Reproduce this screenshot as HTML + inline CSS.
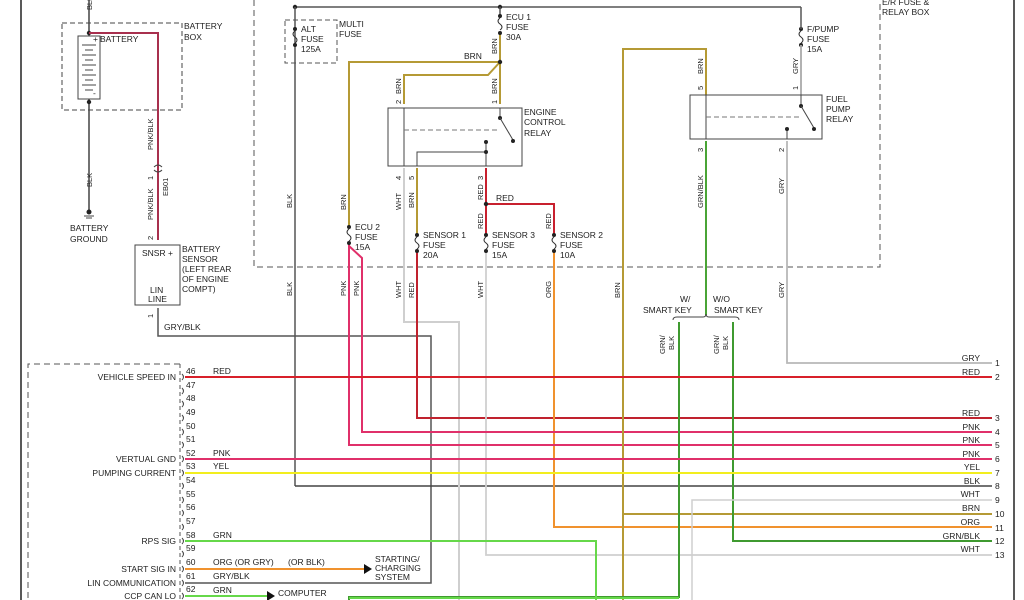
<!DOCTYPE html>
<html><head><meta charset="utf-8"><style>
html,body{margin:0;padding:0;background:#fff;}
svg{display:block;}
text{font-family:"Liberation Sans",sans-serif;font-size:8.5px;fill:#222;}
.s{font-size:7.5px;}
</style></head><body>
<svg width="1024" height="600" viewBox="0 0 1024 600" xmlns="http://www.w3.org/2000/svg">
<!-- frame lines -->
<line x1="21" y1="0" x2="21" y2="600" stroke="#222" stroke-width="1.5"/>
<line x1="1014" y1="0" x2="1014" y2="600" stroke="#222" stroke-width="1.5"/>

<!-- Battery section -->
<line x1="89" y1="0" x2="89" y2="210" stroke="#444" stroke-width="1.5"/>
<rect x="62" y="23" width="120" height="87" fill="none" stroke="#444" stroke-dasharray="5,3"/>
<rect x="78" y="36" width="22" height="63" fill="#fff" stroke="#444"/>
<g stroke="#444">
<line x1="82" y1="45" x2="96" y2="45"/><line x1="85" y1="50" x2="93" y2="50"/>
<line x1="82" y1="55" x2="96" y2="55"/><line x1="85" y1="60" x2="93" y2="60"/>
<line x1="82" y1="65" x2="96" y2="65"/><line x1="85" y1="70" x2="93" y2="70"/>
<line x1="82" y1="75" x2="96" y2="75"/><line x1="85" y1="80" x2="93" y2="80"/>
<line x1="82" y1="85" x2="96" y2="85"/><line x1="85" y1="90" x2="93" y2="90"/>
</g>
<circle cx="89" cy="33" r="2.2" fill="#222"/><circle cx="89" cy="102" r="2.2" fill="#222"/>
<circle cx="89" cy="212" r="2.5" fill="#222"/>
<line x1="84" y1="216" x2="94" y2="216" stroke="#444"/><line x1="86" y1="218" x2="92" y2="218" stroke="#444"/>
<text x="93" y="42">+</text><text x="93" y="96">-</text>
<text x="100" y="42">BATTERY</text>
<text x="184" y="29">BATTERY</text><text x="184" y="40">BOX</text>
<text x="70" y="231">BATTERY</text><text x="70" y="242">GROUND</text>
<polyline points="89,33 158,33 158,240" fill="none" stroke="#a8304e" stroke-width="2"/>
<path d="M154,167 q4,-4 8,0 M154,170 q4,4 8,0" fill="none" stroke="#444"/>
<rect x="135" y="245" width="45" height="60" fill="#fff" stroke="#444"/>
<text x="142" y="256">SNSR +</text><text x="150" y="293">LIN</text><text x="148" y="302">LINE</text>
<text x="182" y="252">BATTERY</text><text x="182" y="262">SENSOR</text><text x="182" y="272">(LEFT REAR</text><text x="182" y="282">OF ENGINE</text><text x="182" y="292">COMPT)</text>
<polyline points="158,308 158,336 431,336 431,583 185,583" fill="none" stroke="#555" stroke-width="1.5"/>
<text x="164" y="330">GRY/BLK</text>
<text class="s" transform="translate(153,150) rotate(-90)">PNK/BLK</text>
<text class="s" transform="translate(153,220) rotate(-90)">PNK/BLK</text>
<text class="s" transform="translate(168,196) rotate(-90)">EB01</text>
<text class="s" transform="translate(153,180) rotate(-90)">1</text>
<text class="s" transform="translate(153,240) rotate(-90)">2</text>
<text class="s" transform="translate(153,318) rotate(-90)">1</text>
<text class="s" transform="translate(92,187) rotate(-90)">BLK</text>
<text class="s" transform="translate(92,10) rotate(-90)">BLK</text>

<!-- E/R fuse box -->
<polyline points="254,0 254,267 880,267 880,0" fill="none" stroke="#555" stroke-dasharray="6,4"/>
<text x="882" y="5">E/R FUSE &amp;</text><text x="882" y="15">RELAY BOX</text>
<line x1="295" y1="7" x2="801" y2="7" stroke="#555" stroke-width="1.5"/>
<circle cx="295" cy="7" r="2.2" fill="#222"/><circle cx="500" cy="7" r="2.2" fill="#222"/>
<rect x="285" y="20" width="52" height="43" fill="none" stroke="#555" stroke-dasharray="5,3"/>
<text x="339" y="27">MULTI</text><text x="339" y="37">FUSE</text>
<text x="301" y="32">ALT</text><text x="301" y="42">FUSE</text><text x="301" y="52">125A</text>
<line x1="295" y1="7" x2="295" y2="486" stroke="#555" stroke-width="1.5"/>
<line x1="295" y1="486" x2="992" y2="486" stroke="#444" stroke-width="1.5"/>
<text class="s" transform="translate(292,208) rotate(-90)">BLK</text>
<text class="s" transform="translate(292,296) rotate(-90)">BLK</text>

<!-- ECU1 fuse -->
<line x1="500" y1="7" x2="500" y2="18" stroke="#555" stroke-width="1.5"/>
<text x="506" y="20">ECU 1</text><text x="506" y="30">FUSE</text><text x="506" y="40">30A</text>
<polyline points="500,33 500,104" fill="none" stroke="#b59a35" stroke-width="2"/>
<polyline points="500,62 349,62 349,227" fill="none" stroke="#b59a35" stroke-width="2"/>
<polyline points="500,62 488,75 404,75 404,104" fill="none" stroke="#b59a35" stroke-width="2"/>
<circle cx="500" cy="62" r="2.2" fill="#222"/>
<text x="464" y="59">BRN</text>
<text class="s" transform="translate(497,54) rotate(-90)">BRN</text>
<text class="s" transform="translate(497,94) rotate(-90)">BRN</text>
<text class="s" transform="translate(401,94) rotate(-90)">BRN</text>
<text class="s" transform="translate(401,104) rotate(-90)">2</text>
<text class="s" transform="translate(497,104) rotate(-90)">1</text>

<!-- Engine control relay -->
<rect x="388" y="108" width="134" height="58" fill="none" stroke="#444"/>
<text x="524" y="115">ENGINE</text><text x="524" y="125">CONTROL</text><text x="524" y="136">RELAY</text>
<line x1="404" y1="108" x2="404" y2="166" stroke="#444"/>
<line x1="404" y1="130" x2="500" y2="130" stroke="#777" stroke-dasharray="5,3"/>
<line x1="500" y1="108" x2="500" y2="118" stroke="#444"/>
<circle cx="500" cy="118" r="2" fill="#222"/>
<line x1="500" y1="118" x2="513" y2="140" stroke="#444"/><circle cx="513" cy="141" r="2" fill="#222"/>
<polyline points="417,166 417,152 486,152" fill="none" stroke="#444"/>
<line x1="486" y1="142" x2="486" y2="166" stroke="#444"/>
<circle cx="486" cy="142" r="2" fill="#222"/><circle cx="486" cy="152" r="2" fill="#222"/>
<text class="s" transform="translate(401,180) rotate(-90)">4</text>
<text class="s" transform="translate(414,180) rotate(-90)">5</text>
<text class="s" transform="translate(483,180) rotate(-90)">3</text>
<text class="s" transform="translate(483,200) rotate(-90)">RED</text>

<!-- WHT from pin 4 -->
<polyline points="404,168 404,322 459,322 459,600" fill="none" stroke="#cfcfcf" stroke-width="2"/>
<text class="s" transform="translate(401,210) rotate(-90)">WHT</text>
<text class="s" transform="translate(401,298) rotate(-90)">WHT</text>
<!-- BRN pin 5 -> sensor1 -->
<line x1="417" y1="168" x2="417" y2="234" stroke="#b59a35" stroke-width="2"/>
<text class="s" transform="translate(414,208) rotate(-90)">BRN</text>
<text x="423" y="238">SENSOR 1</text><text x="423" y="248">FUSE</text><text x="423" y="258">20A</text>
<polyline points="417,251 417,418 992,418" fill="none" stroke="#c0222e" stroke-width="2"/>
<text class="s" transform="translate(414,298) rotate(-90)">RED</text>

<!-- RED pin 3 -->
<line x1="486" y1="168" x2="486" y2="236" stroke="#c8202e" stroke-width="2"/>
<polyline points="486,204 554,204 554,236" fill="none" stroke="#c8202e" stroke-width="2"/>
<circle cx="486" cy="204" r="2.2" fill="#222"/>
<text x="496" y="201">RED</text>
<text class="s" transform="translate(483,229) rotate(-90)">RED</text>
<text class="s" transform="translate(551,229) rotate(-90)">RED</text>
<text x="492" y="238">SENSOR 3</text><text x="492" y="248">FUSE</text><text x="492" y="258">15A</text>
<text x="560" y="238">SENSOR 2</text><text x="560" y="248">FUSE</text><text x="560" y="258">10A</text>
<polyline points="486,252 486,555 992,555" fill="none" stroke="#cfcfcf" stroke-width="1.8"/>
<text class="s" transform="translate(483,298) rotate(-90)">WHT</text>
<polyline points="554,252 554,527 992,527" fill="none" stroke="#f0922e" stroke-width="2"/>
<text class="s" transform="translate(551,298) rotate(-90)">ORG</text>

<!-- ECU2 fuse -->
<text x="355" y="230">ECU 2</text><text x="355" y="240">FUSE</text><text x="355" y="250">15A</text>
<text class="s" transform="translate(346,210) rotate(-90)">BRN</text>
<polyline points="349,244 349,445 992,445" fill="none" stroke="#e0306a" stroke-width="2"/>
<polyline points="349,246 362,258 362,432 992,432" fill="none" stroke="#e0306a" stroke-width="2"/>
<text class="s" transform="translate(346,296) rotate(-90)">PNK</text>
<text class="s" transform="translate(359,296) rotate(-90)">PNK</text>

<!-- fuse symbols -->
<g fill="#222">
<circle cx="295" cy="29" r="2"/><circle cx="295" cy="45" r="2"/>
<circle cx="500" cy="16" r="2"/><circle cx="500" cy="33" r="2"/>
<circle cx="801" cy="29" r="2"/><circle cx="801" cy="45" r="2"/>
<circle cx="349" cy="227" r="2"/><circle cx="349" cy="243" r="2"/>
<circle cx="417" cy="235" r="2"/><circle cx="417" cy="251" r="2"/>
<circle cx="486" cy="235" r="2"/><circle cx="486" cy="251" r="2"/>
<circle cx="554" cy="235" r="2"/><circle cx="554" cy="251" r="2"/>
</g>
<g fill="none" stroke="#333">
<path d="M295,31 q-4,3 0,6 q4,3 0,6"/>
<path d="M500,18 q-4,3 0,6 q4,3 0,6"/>
<path d="M801,31 q-4,3 0,6 q4,3 0,6"/>
<path d="M349,229 q-4,3 0,6 q4,3 0,6"/>
<path d="M417,237 q-4,3 0,6 q4,3 0,6"/>
<path d="M486,237 q-4,3 0,6 q4,3 0,6"/>
<path d="M554,237 q-4,3 0,6 q4,3 0,6"/>
</g>

<!-- Fuel pump relay -->
<line x1="801" y1="7" x2="801" y2="29" stroke="#555" stroke-width="1.5"/>
<text x="807" y="32">F/PUMP</text><text x="807" y="42">FUSE</text><text x="807" y="52">15A</text>
<line x1="801" y1="45" x2="801" y2="95" stroke="#aaa" stroke-width="1.8"/>
<text class="s" transform="translate(798,74) rotate(-90)">GRY</text>
<text class="s" transform="translate(798,90) rotate(-90)">1</text>
<polyline points="623,600 623,49 706,49 706,95" fill="none" stroke="#b59a35" stroke-width="2"/>
<text class="s" transform="translate(703,74) rotate(-90)">BRN</text>
<text class="s" transform="translate(703,90) rotate(-90)">5</text>
<rect x="690" y="95" width="132" height="44" fill="none" stroke="#444"/>
<text x="826" y="102">FUEL</text><text x="826" y="112">PUMP</text><text x="826" y="122">RELAY</text>
<line x1="706" y1="95" x2="706" y2="139" stroke="#444"/>
<line x1="706" y1="117" x2="800" y2="117" stroke="#777" stroke-dasharray="5,3"/>
<line x1="801" y1="95" x2="801" y2="106" stroke="#444"/>
<circle cx="801" cy="106" r="2" fill="#222"/>
<line x1="801" y1="106" x2="814" y2="128" stroke="#444"/><circle cx="814" cy="129" r="2" fill="#222"/>
<line x1="787" y1="129" x2="787" y2="139" stroke="#444"/><circle cx="787" cy="129" r="2" fill="#222"/>
<text class="s" transform="translate(703,152) rotate(-90)">3</text>
<text class="s" transform="translate(784,152) rotate(-90)">2</text>
<polyline points="787,141 787,363 992,363" fill="none" stroke="#b8b8b8" stroke-width="1.8"/>
<text class="s" transform="translate(784,194) rotate(-90)">GRY</text>
<text class="s" transform="translate(784,298) rotate(-90)">GRY</text>
<line x1="706" y1="141" x2="706" y2="315" stroke="#4aa436" stroke-width="2"/>
<text class="s" transform="translate(703,208) rotate(-90)">GRN/BLK</text>
<text class="s" transform="translate(620,298) rotate(-90)">BRN</text>
<line x1="623" y1="514" x2="992" y2="514" stroke="#b59a35" stroke-width="2"/>

<!-- Smart key -->
<text x="680" y="302">W/</text><text x="643" y="313">SMART KEY</text>
<text x="713" y="302">W/O</text><text x="714" y="313">SMART KEY</text>
<path d="M673,320 q0,-3 4,-3 l26,0 q3,0 3,-3 q0,3 3,3 l26,0 q4,0 4,3" fill="none" stroke="#444"/>
<polyline points="679,322 679,597 349,597 349,600" fill="none" stroke="#3f9a30" stroke-width="2"/>
<polyline points="733,322 733,541 992,541" fill="none" stroke="#3f9a30" stroke-width="2"/>
<text class="s" transform="translate(665,354) rotate(-90)">GRN/</text>
<text class="s" transform="translate(674,350) rotate(-90)">BLK</text>
<text class="s" transform="translate(719,354) rotate(-90)">GRN/</text>
<text class="s" transform="translate(728,350) rotate(-90)">BLK</text>

<!-- WHT row 9 -->
<polyline points="692,600 692,500 992,500" fill="none" stroke="#cfcfcf" stroke-width="1.5"/>

<!-- Connector panel -->
<polyline points="180,364 28,364 28,600" fill="none" stroke="#555" stroke-dasharray="6,4"/>
<line x1="180" y1="364" x2="180" y2="600" stroke="#555" stroke-dasharray="4,3"/>
<g font-size="8">
<text x="186" y="374">46</text><text x="186" y="388">47</text><text x="186" y="401">48</text><text x="186" y="415">49</text>
<text x="186" y="429">50</text><text x="186" y="442">51</text><text x="186" y="456">52</text><text x="186" y="469">53</text>
<text x="186" y="483">54</text><text x="186" y="497">55</text><text x="186" y="510">56</text><text x="186" y="524">57</text>
<text x="186" y="538">58</text><text x="186" y="551">59</text><text x="186" y="565">60</text><text x="186" y="579">61</text><text x="186" y="592">62</text>
</g>
<g fill="none" stroke="#444">
<path d="M182,374 q3,3 0,6"/><path d="M182,388 q3,3 0,6"/><path d="M182,401 q3,3 0,6"/><path d="M182,415 q3,3 0,6"/>
<path d="M182,429 q3,3 0,6"/><path d="M182,442 q3,3 0,6"/><path d="M182,456 q3,3 0,6"/><path d="M182,470 q3,3 0,6"/>
<path d="M182,483 q3,3 0,6"/><path d="M182,497 q3,3 0,6"/><path d="M182,510 q3,3 0,6"/><path d="M182,524 q3,3 0,6"/>
<path d="M182,538 q3,3 0,6"/><path d="M182,551 q3,3 0,6"/><path d="M182,566 q3,3 0,6"/><path d="M182,580 q3,3 0,6"/><path d="M182,593 q3,3 0,6"/>
</g>
<g text-anchor="end">
<text x="176" y="380">VEHICLE SPEED IN</text>
<text x="176" y="462">VERTUAL GND</text>
<text x="176" y="476">PUMPING CURRENT</text>
<text x="176" y="544">RPS SIG</text>
<text x="176" y="572">START SIG IN</text>
<text x="176" y="586">LIN COMMUNICATION</text>
<text x="176" y="599">CCP CAN LO</text>
</g>
<line x1="185" y1="377" x2="992" y2="377" stroke="#d8202a" stroke-width="2"/>
<line x1="185" y1="459" x2="992" y2="459" stroke="#e0306a" stroke-width="2"/>
<line x1="185" y1="473" x2="992" y2="473" stroke="#f2ee1e" stroke-width="2"/>
<polyline points="185,541 596,541 596,600" fill="none" stroke="#66d84a" stroke-width="2"/>
<line x1="185" y1="569" x2="365" y2="569" stroke="#f0922e" stroke-width="2"/>
<polygon points="364,564 372,569 364,574" fill="#111"/>
<line x1="185" y1="596" x2="268" y2="596" stroke="#66d84a" stroke-width="2"/>
<polygon points="267,591 275,596 267,601" fill="#111"/>
<line x1="349" y1="598" x2="679" y2="598" stroke="#66d84a" stroke-width="2"/>
<text x="213" y="374">RED</text>
<text x="213" y="456">PNK</text>
<text x="213" y="469">YEL</text>
<text x="213" y="538">GRN</text>
<text x="213" y="565">ORG  (OR GRY)</text><text x="288" y="565">(OR BLK)</text>
<text x="213" y="579">GRY/BLK</text>
<text x="213" y="593">GRN</text>
<text x="375" y="562">STARTING/</text><text x="375" y="571">CHARGING</text><text x="375" y="580">SYSTEM</text>
<text x="278" y="596">COMPUTER</text>

<!-- Right labels -->
<g text-anchor="end">
<text x="980" y="361">GRY</text><text x="980" y="375">RED</text><text x="980" y="416">RED</text>
<text x="980" y="430">PNK</text><text x="980" y="443">PNK</text><text x="980" y="457">PNK</text>
<text x="980" y="470">YEL</text><text x="980" y="484">BLK</text><text x="980" y="497">WHT</text>
<text x="980" y="511">BRN</text><text x="980" y="525">ORG</text><text x="980" y="539">GRN/BLK</text><text x="980" y="552">WHT</text>
</g>
<g font-size="8">
<text x="995" y="366">1</text><text x="995" y="380">2</text><text x="995" y="421">3</text><text x="995" y="435">4</text>
<text x="995" y="448">5</text><text x="995" y="462">6</text><text x="995" y="476">7</text><text x="995" y="489">8</text>
<text x="995" y="503">9</text><text x="995" y="517">10</text><text x="995" y="531">11</text><text x="995" y="544">12</text><text x="995" y="558">13</text>
</g>
</svg>
</body></html>
